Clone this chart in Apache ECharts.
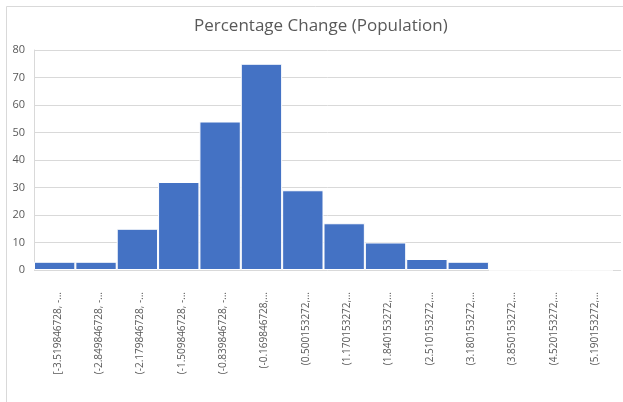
<!DOCTYPE html>
<html>
<head>
<meta charset="utf-8">
<script src="https://cdn.jsdelivr.net/npm/echarts@6/dist/echarts.min.js"></script>
<style>
  html, body { margin: 0; padding: 0; background: #ffffff; }
  #chart { width: 623px; height: 402px; }
</style>
</head>
<body>
<div id="chart"></div>
<script>
// Histogram bins (truncated range labels as they appear under the axis)
const binLabels = [
  '[-3.519846728, -...',
  '(-2.849846728, -...',
  '(-2.179846728, -...',
  '(-1.509846728, -...',
  '(-0.839846728, -...',
  '(-0.169846728,...',
  '(0.500153272,...',
  '(1.170153272,...',
  '(1.840153272,...',
  '(2.510153272,...',
  '(3.180153272,...',
  '(3.850153272,...',
  '(4.520153272,...',
  '(5.190153272,...'
];
// Frequency per bin
const binCounts = [3, 3, 15, 32, 54, 75, 29, 17, 10, 4, 3, 0, 0, 0];
// Value axis ticks
const yMin = 0, yMax = 80, yStep = 10;

const gridLine = '#d9d9d9';
const textGrey = '#595959';
const font = 'Open Sans';

const hiddenValueAxis = (gridIndex) => ({
  gridIndex, type: 'value', min: yMin, max: yMax, interval: yStep,
  axisLine: { show: false }, axisTick: { show: false },
  axisLabel: { show: false }, splitLine: { show: false }
});

const chart = echarts.init(document.getElementById('chart'));
chart.setOption({
  backgroundColor: '#ffffff',
  animation: false,
  title: {
    text: 'Percentage Change (Population)',
    left: 189,
    top: 13,
    textStyle: { fontFamily: font, fontSize: 17, fontWeight: 'normal', color: textGrey }
  },
  graphic: [{
    type: 'rect',
    shape: { x: 6.5, y: 6.5, width: 700, height: 500 },
    style: { fill: 'none', stroke: gridLine, lineWidth: 1 },
    silent: true
  }],
  grid: [
    // full-width plot frame carrying the gridlines
    { left: 34, top: 50, right: 2, height: 220 },
    // bar area
    { left: 34, top: 50, width: 579, height: 220 },
    // bin labels, nudged a little right of the bar centres
    { left: 37, top: 50, width: 579, height: 220 }
  ],
  xAxis: [
    {
      gridIndex: 0, type: 'value', min: 0, max: 1,
      axisLine: { show: false }, axisTick: { show: false },
      axisLabel: { show: false }, splitLine: { show: false }
    },
    {
      gridIndex: 1, type: 'category', data: binLabels,
      axisLine: { show: false }, axisTick: { show: false },
      axisLabel: { show: false }, splitLine: { show: false }
    },
    {
      gridIndex: 2, type: 'category', data: binLabels,
      axisLine: { show: false }, axisTick: { show: false },
      splitLine: { show: false },
      axisLabel: {
        rotate: 90,
        interval: 0,
        margin: 22,
        fontFamily: font,
        fontSize: 10,
        color: textGrey
      }
    }
  ],
  yAxis: [
    {
      gridIndex: 0, type: 'value', min: yMin, max: yMax, interval: yStep,
      axisLine: { show: true, lineStyle: { color: gridLine } },
      axisTick: { show: false },
      axisLabel: { margin: 9, fontFamily: font, fontSize: 11, color: textGrey },
      splitLine: { lineStyle: { color: gridLine, width: 1 } }
    },
    hiddenValueAxis(1),
    hiddenValueAxis(2)
  ],
  series: [{
    type: 'bar',
    xAxisIndex: 1,
    yAxisIndex: 1,
    data: binCounts,
    barCategoryGap: '0%',
    itemStyle: { color: '#4472c4', borderColor: '#ffffff', borderWidth: 1 }
  }]
});
</script>
</body>
</html>
